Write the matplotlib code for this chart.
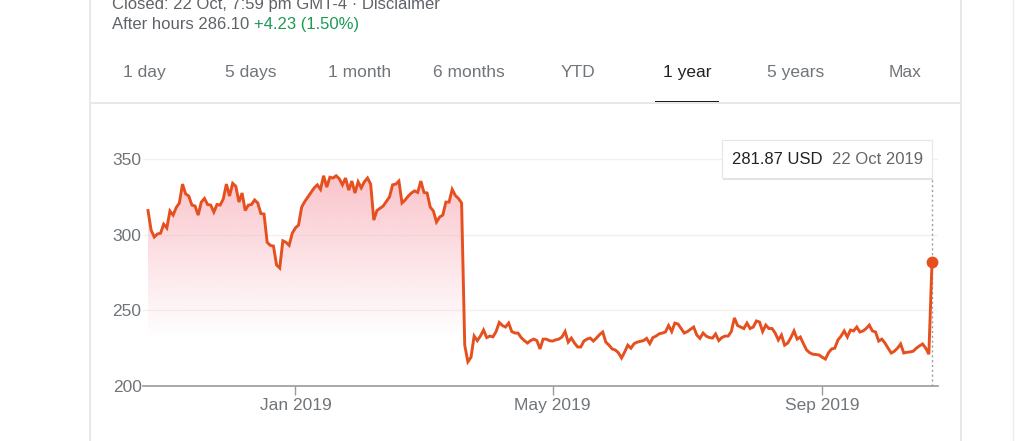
import numpy as np
import pandas as pd
import matplotlib
matplotlib.use("Agg")
import matplotlib.pyplot as plt
from matplotlib.patches import Rectangle

# ---------------------------------------------------------------------------
# Data (daily closes, 23 Oct 2018 .. 22 Oct 2019)
# ---------------------------------------------------------------------------
start_date = "2018-10-23"
end_date = "2019-10-22"
market_holidays = ["2018-11-22", "2018-12-05", "2018-12-25", "2019-01-01",
                   "2019-01-21", "2019-02-18", "2019-04-19", "2019-05-27",
                   "2019-07-04", "2019-09-02"]

closes = [
    316, 303, 298.5, 300.5, 301, 307, 304.5, 315.7, 313, 318,
    321, 333.5, 327, 325.6, 319.6, 319, 313, 321.6, 324, 320,
    319.6, 315, 320, 319.6, 323.6, 333.5, 325.6, 334, 332, 321.6,
    327.6, 316, 319.6, 320, 323, 321, 314, 313.7, 295, 293,
    292.5, 280, 278, 296, 295, 293, 301, 304.5, 306.4, 318.3,
    322, 325, 328, 331, 333, 330, 339, 331.5, 338, 337.5,
    339, 337, 333, 337.5, 329.5, 335.5, 327.6, 335, 331, 335,
    337.5, 333.5, 309.7, 316, 317.5, 319, 322, 325, 333, 333.5,
    335.5, 321, 323, 325.6, 327.6, 329, 328, 335.5, 328, 327.6,
    318.3, 315.7, 308.4, 311.7, 313, 321.6, 321.6, 330, 326, 324,
    321, 227, 216, 219, 233, 230, 233, 237, 232, 233,
    232.5, 236, 242, 240, 239, 241.6, 236, 235, 235, 232,
    230, 228.4, 230, 231, 230, 224.5, 231, 231, 230, 229.7,
    230.5, 231, 232.4, 236, 229, 231.7, 228.4, 225.8, 225.8, 229.7,
    231, 231.7, 229.7, 231.7, 234, 235.7, 229, 227, 224.5, 223.8,
    222, 218.5, 222.5, 227, 225, 228, 229, 229.5, 230, 231.5,
    228, 232, 233, 234.5, 235, 235.7, 240, 236, 241.6, 241,
    238, 235, 236, 237.5, 239, 233.7, 231.5, 235, 233, 232,
    231.7, 234.4, 230, 232, 233, 233, 236, 245, 240, 239,
    238, 241.6, 238, 239, 243, 242.3, 236, 240.3, 238, 238,
    235, 230.4, 233.7, 227, 228.4, 232, 236.4, 231, 232.4, 228,
    223.8, 222, 221, 220.8, 220.5, 219, 217.8, 222, 224.5, 225,
    230.4, 233, 236.4, 232.4, 237, 236.4, 239, 235.7, 236.4, 238,
    240.3, 236.4, 235.7, 229.7, 231, 228.4, 225, 221.8, 223, 225,
    227.8, 221.8, 222.3, 222.5, 223, 225, 226.5, 227.8, 225, 221,
    281.87,
]

y_ticks = [200, 250, 300, 350]
x_tick_months = ["2019-01", "2019-05", "2019-09"]

tabs = ["1 day", "5 days", "1 month", "6 months", "YTD", "1 year", "5 years", "Max"]
tab_centers = [144, 251, 360, 469, 578, 687, 796, 905]
active_tab = "1 year"

# ---------------------------------------------------------------------------
# Style
# ---------------------------------------------------------------------------
LINE = "#E5501E"
GRAY = "#70757a"
DARK = "#222222"
GREEN = "#1a9a55"
FONT = "Liberation Sans"

W, H = 1024, 441
plt.rcParams["font.family"] = [FONT, "DejaVu Sans"]


def fx(px):
    return px / W


def fy(py):
    # pixel rows counted from the top
    return 1 - py / H


dates = pd.bdate_range(start_date, end_date, freq="C", holidays=market_holidays)
x = np.arange(len(closes))
values = np.array(closes)

fig = plt.figure(figsize=(W / 100, H / 100), dpi=100)

# axes placement (pixels): data from x=148..932, y 200 -> row 386
ax_left, ax_right = 143, 938
ax_bottom_row, ax_top_row = 386, 144
ax = fig.add_axes([fx(ax_left), fy(ax_bottom_row),
                   fx(ax_right - ax_left), (ax_bottom_row - ax_top_row) / H])

px_per_day = (932 - 148) / (len(closes) - 1)
ax.set_xlim(-(148 - ax_left) / px_per_day, x[-1] + (ax_right - 932) / px_per_day)
ax.set_ylim(200, 360)

# gradient fill under the line
poly = ax.fill_between(x, values, 200, color="none", lw=0)
levels = np.linspace(200, 360, 400)
alpha = np.clip((levels - 232) / (345 - 232), 0, 1) * 0.95
grad = np.zeros((len(levels), 1, 4))
grad[..., 0] = 249 / 255
grad[..., 1] = 190 / 255
grad[..., 2] = 198 / 255
grad[..., 3] = alpha[:, None]
img = ax.imshow(grad, extent=[x[0], x[-1], 200, 360], origin="lower",
                aspect="auto", zorder=1, interpolation="bilinear")
img.set_clip_path(poly.get_paths()[0], transform=ax.transData)

ax.plot(x, values, color=LINE, lw=2.1, zorder=3, solid_joinstyle="miter")
ax.plot(x[-1], values[-1], "o", color=LINE, ms=7.5, zorder=4)

# axes cosmetics
ax.set_yticks(y_ticks)
ax.set_yticklabels([str(t) for t in y_ticks])
ax.grid(axis="y", color="#f0f0f0", lw=1, zorder=0)
ax.set_axisbelow(True)
for s in ("top", "right", "left"):
    ax.spines[s].set_visible(False)
ax.spines["bottom"].set_color("#9a9a9a")
ax.spines["bottom"].set_linewidth(1.2)

tick_idx = [int(np.argmax(dates.strftime("%Y-%m") == m)) for m in x_tick_months]
ax.set_xticks(tick_idx)
ax.set_xticklabels([dates[i].strftime("%b %Y") for i in tick_idx])
ax.tick_params(axis="x", length=6.5, width=1, color="#9a9a9a", pad=2,
               labelsize=12.5, labelcolor=GRAY)
ax.tick_params(axis="y", length=0, pad=1, labelsize=12.5, labelcolor=GRAY)
ax.set_facecolor("none")

# tooltip box with dotted guide
box_l, box_r, box_t, box_b = 722, 932, 140, 178
shadow = Rectangle((fx(box_l + 1), fy(box_b + 2)), fx(box_r - box_l),
                   (box_b - box_t) / H, transform=fig.transFigure,
                   facecolor="#000000", alpha=0.12, lw=0, zorder=5)
fig.add_artist(shadow)
box = Rectangle((fx(box_l), fy(box_b)), fx(box_r - box_l), (box_b - box_t) / H,
                transform=fig.transFigure, facecolor="white",
                edgecolor="#e6e6e6", lw=0.8, zorder=6)
fig.add_artist(box)
fig.text(fx(732), fy(159), f"{values[-1]:.2f} USD", color=DARK, fontsize=12,
         va="center", ha="left", zorder=7)
fig.text(fx(832), fy(159), dates[-1].strftime("%d %b %Y"), color="#666666",
         fontsize=12, va="center", ha="left", zorder=7)
guide_top = (ax_bottom_row - box_b) / (ax_bottom_row - ax_top_row)
ax.axvline(x[-1], ymin=0, ymax=guide_top, color="#9e9e9e", lw=1,
           ls=(0, (1.5, 2)), zorder=2)

# page chrome: card borders, tab strip, header lines
for col in (90, 961):
    fig.add_artist(plt.Line2D([fx(col), fx(col)], [0, 1], transform=fig.transFigure,
                              color="#e4e4e4", lw=1.2))
fig.add_artist(plt.Line2D([fx(1013), fx(1013)], [0, 1], transform=fig.transFigure,
                          color="#ececec", lw=1))
fig.add_artist(plt.Line2D([fx(90), fx(961)], [fy(102.5), fy(102.5)],
                          transform=fig.transFigure, color="#e8e8e8", lw=1.5))

fig.text(fx(112), fy(9), "Closed: 22 Oct, 7:59 pm GMT-4 · Disclaimer",
         color="#5f6368", fontsize=12, va="baseline")
fig.text(fx(112), fy(29), "After hours 286.10", color="#5f6368", fontsize=12,
         va="baseline")
fig.text(fx(254), fy(29), "+4.23 (1.50%)", color=GREEN, fontsize=12,
         va="baseline")

for label, cx in zip(tabs, tab_centers):
    active = label == active_tab
    fig.text(fx(cx), fy(77), label, ha="center", va="baseline", fontsize=12.5,
             color=DARK if active else GRAY)
    if active:
        fig.add_artist(Rectangle((fx(cx - 32), fy(104)), fx(64), 3 / H,
                                 transform=fig.transFigure, facecolor="#111111",
                                 lw=0))

fig.savefig("out.png", dpi=100)
